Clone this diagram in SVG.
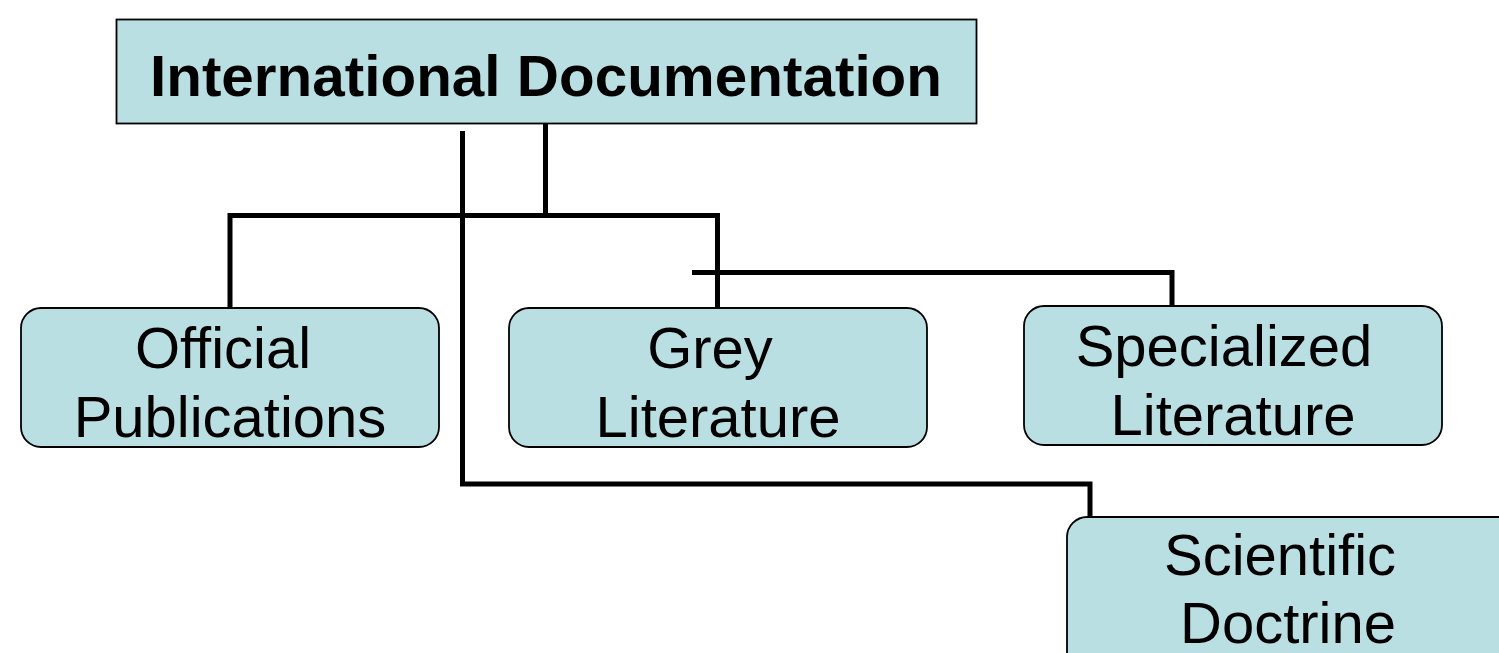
<svg xmlns="http://www.w3.org/2000/svg" width="1499" height="653" viewBox="0 0 1499 653">
<style>
.box{fill:#b9dfe3;stroke:#000;stroke-width:1.8}
.t{font-family:"Liberation Sans",Arial,sans-serif;font-size:58px;fill:#000;text-anchor:middle}
.b{font-weight:bold}
.c{fill:none;stroke:#000;stroke-width:5;stroke-linejoin:miter;stroke-linecap:butt}
</style>
<rect width="1499" height="653" fill="#fff"/>
<g id="connectors">
<path class="c" d="M545.5 124 V215.5 M230 308 V215.5 H717.5 V308"/>
<path class="c" stroke-width="4.5" d="M462.5 131 V484 H1090 V518"/>
<path class="c" d="M692 272.5 H1172 V306"/>
</g>
<g id="international">
<rect class="box" x="116.5" y="19.5" width="860" height="104"/>
<text class="t b" x="546" y="96" font-size="56" textLength="792" lengthAdjust="spacingAndGlyphs">International Documentation</text>
</g>
<g id="official">
<rect class="box" x="21" y="308" width="418" height="139" rx="20"/>
<text class="t" x="223" y="368">Official</text>
<text class="t" x="230" y="437">Publications</text>
</g>
<g id="grey">
<rect class="box" x="509" y="308" width="418" height="139" rx="20"/>
<text class="t" x="710" y="368">Grey</text>
<text class="t" x="718" y="437">Literature</text>
</g>
<g id="specialized">
<rect class="box" x="1024" y="306" width="418" height="139" rx="20"/>
<text class="t" x="1224" y="366">Specialized</text>
<text class="t" x="1233" y="435">Literature</text>
</g>
<g id="scientific">
<rect class="box" x="1067" y="517" width="460" height="160" rx="20"/>
<text class="t" x="1280" y="575">Scientific</text>
<text class="t" x="1288" y="643">Doctrine</text>
</g>
</svg>
